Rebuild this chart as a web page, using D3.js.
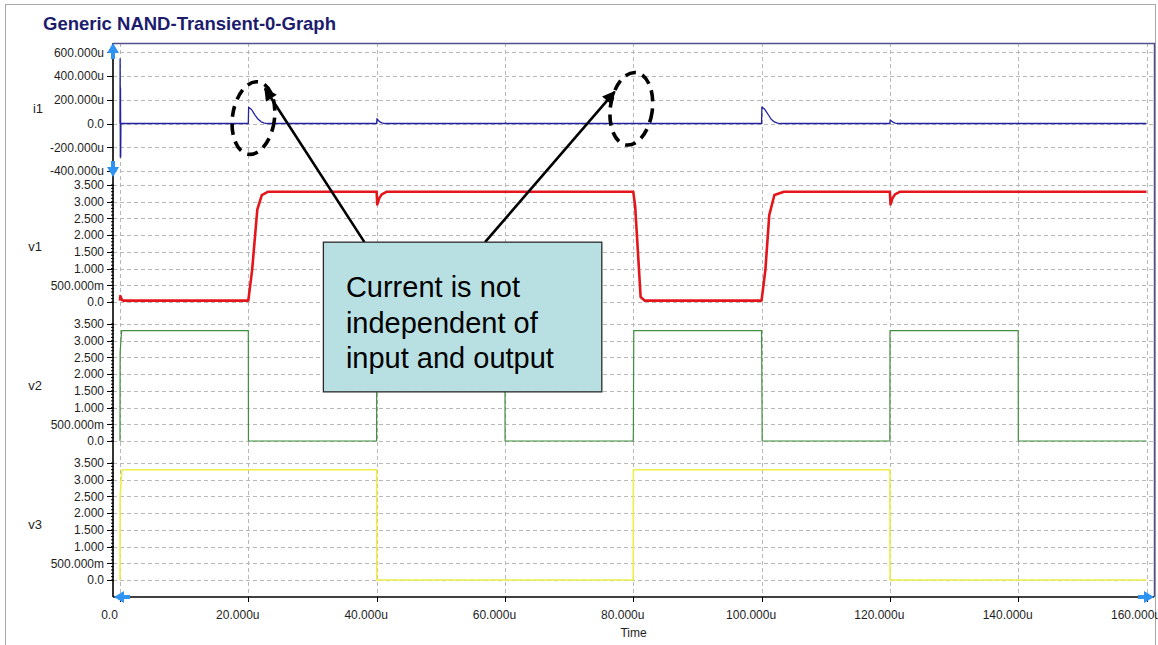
<!DOCTYPE html>
<html>
<head>
<meta charset="utf-8">
<script src="https://cdn.jsdelivr.net/npm/d3@7"></script>
<style>
body { margin: 0; background: #fff; }
text { font-family: "Liberation Sans", Arial, sans-serif; }
</style>
</head>
<body>
<svg id="chart" width="1158" height="645"></svg>
<script>
// time in u (micro seconds), i1 in uA, v1..v3 in V
var timeTicks = [0, 20, 40, 60, 80, 100, 120, 140, 160];
var timeLabels = ["0.0", "20.000u", "40.000u", "60.000u", "80.000u", "100.000u", "120.000u", "140.000u", "160.000u"];
var i1Ticks = [600, 400, 200, 0, -200, -400];
var i1Labels = ["600.000u", "400.000u", "200.000u", "0.0", "-200.000u", "-400.000u"];
var vTicks = [3.5, 3, 2.5, 2, 1.5, 1, 0.5, 0];
var vLabels = ["3.500", "3.000", "2.500", "2.000", "1.500", "1.000", "500.000m", "0.0"];

var i1Points = [[0, 0], [0.02, 545], [0.05, -285], [0.08, 300], [0.11, -280], [0.14, 0], [20, 0],
  [20.05, 137], [20.5, 118], [21, 75], [21.5, 38], [22, 14], [22.5, 4], [23, 0], [40, 0],
  [40.05, 40], [40.4, 18], [40.8, 6], [41.3, 0], [60, 0], [60.05, 6], [60.4, 0], [80, 0],
  [80.05, 3], [80.3, 0], [100, 0], [100.05, 140], [100.5, 120], [101, 78], [101.5, 36],
  [102, 13], [102.5, 4], [103, 0], [120, 0], [120.05, 30], [120.4, 14], [120.8, 4], [121.2, 0],
  [140, 0], [140.05, 4], [140.3, 0], [160, 0]];
var v1Points = [[0, 0.04], [0.05, 0.18], [0.3, 0.06], [0.6, 0.04], [20, 0.04], [20.6, 0.97],
  [21.4, 2.76], [22.1, 3.2], [23.1, 3.3], [40, 3.3], [40.1, 2.92], [40.4, 3.1], [40.8, 3.22],
  [41.6, 3.3], [80, 3.3], [80.3, 2.86], [80.8, 1.27], [81.15, 0.15], [81.8, 0.04], [100, 0.04],
  [100.6, 0.97], [101.2, 2.6], [102, 3.2], [103.5, 3.3], [120, 3.3], [120.1, 2.92], [120.4, 3.1],
  [120.8, 3.22], [121.6, 3.3], [160, 3.3]];
var v2Points = [[0, 0], [0.02, 2.65], [0.25, 3.3], [20, 3.3], [20.02, 0], [40, 0], [40.02, 3.3],
  [60, 3.3], [60.02, 0], [80, 0], [80.02, 0.3], [80.08, 3.3], [100, 3.3], [100.02, 2.8],
  [100.1, 0], [120, 0], [120.02, 3.3], [140, 3.3], [140.02, 0], [160, 0]];
var v3Points = [[0, 0], [0.02, 2.5], [0.3, 3.3], [40, 3.3], [40.02, 0], [80, 0], [80.02, 3.3],
  [120, 3.3], [120.02, 0], [160, 0]];

var noteLines = ["Current is not", "independent of", "input and output"];
var noteBox = {t0: 31.7, t1: 75.1, vTop: 1.79, vBottom: 1.47};
var circleMarks = [{t: 20.8, i: 46}, {t: 79.7, i: 124}];
var arrowMarks = [{t0: 38.1, t1: 22.6, i1: 295}, {t0: 56.9, t1: 77.1, i1: 267}];

var svg = d3.select("#chart");
var plotLeft = 113, plotRight = 1154, plotTop = 43, plotBottom = 597;
var bounds = [43, 180, 319, 458, 597];

svg.append("rect").attr("x", 5.5).attr("y", 4.5).attr("width", 1150).attr("height", 660)
  .attr("fill", "#fff").attr("stroke", "#a8a8a8").attr("stroke-width", 1);

svg.append("text").attr("x", 43).attr("y", 30).text("Generic NAND-Transient-0-Graph")
  .style("font-size", "18.5px").style("font-weight", "bold").attr("fill", "#1c1c6e");

var x = d3.scaleLinear().domain([0, 160]).range([120, 1146.5]);

var panels = [
  {name: "i1", ticks: i1Ticks, labels: i1Labels, data: i1Points, color: "#2323a0", width: 1.3,
   y: d3.scaleLinear().domain([-400, 600]).range([bounds[1] - 9, bounds[0] + 9.3])},
  {name: "v1", ticks: vTicks, labels: vLabels, data: v1Points, color: "#e3161b", width: 2.6,
   y: d3.scaleLinear().domain([0, 3.5]).range([bounds[2] - 17, bounds[1] + 5])},
  {name: "v2", ticks: vTicks, labels: vLabels, data: v2Points, color: "#3f8f3f", width: 1.2,
   y: d3.scaleLinear().domain([0, 3.5]).range([bounds[3] - 17, bounds[2] + 5])},
  {name: "v3", ticks: vTicks, labels: vLabels, data: v3Points, color: "#eeee4a", width: 1.6,
   y: d3.scaleLinear().domain([0, 3.5]).range([bounds[4] - 17, bounds[3] + 5])}
];

var grid = svg.append("g").attr("stroke", "#b8b8b8").attr("stroke-width", 1)
  .attr("stroke-dasharray", "4,3");
grid.selectAll("line.vx").data(timeTicks).enter().append("line")
  .attr("x1", d => Math.round(x(d)) + 0.5).attr("x2", d => Math.round(x(d)) + 0.5)
  .attr("y1", plotTop).attr("y2", plotBottom);

panels.forEach(p => {
  grid.append("g").selectAll("line").data(p.ticks).enter().append("line")
    .attr("x1", plotLeft).attr("x2", plotRight)
    .attr("y1", d => Math.round(p.y(d)) + 0.5).attr("y2", d => Math.round(p.y(d)) + 0.5);
});

// traces
panels.forEach(p => {
  var line = d3.line().x(d => x(d[0])).y(d => p.y(d[1]));
  svg.append("path").datum(p.data).attr("d", line).attr("fill", "none")
    .attr("stroke", p.color).attr("stroke-width", p.width).attr("stroke-linejoin", "round");
});

// left axis, ticks and labels
var axisG = svg.append("g");
axisG.append("line").attr("x1", plotLeft).attr("x2", plotLeft).attr("y1", plotTop).attr("y2", plotBottom)
  .attr("stroke", "#000").attr("stroke-width", 1.6);
panels.forEach((p, k) => {
  var g = axisG.append("g");
  if (k > 0) {
    g.selectAll("line.minor").data(d3.range(0, 36).map(d => d / 10)).enter().append("line")
      .attr("x1", plotLeft - 2).attr("x2", plotLeft + 1)
      .attr("y1", d => p.y(d)).attr("y2", d => p.y(d))
      .attr("stroke", "#000").attr("stroke-width", 1);
  }
  g.selectAll("line.major").data(p.ticks).enter().append("line")
    .attr("x1", plotLeft - 6).attr("x2", plotLeft)
    .attr("y1", d => Math.round(p.y(d)) + 0.5).attr("y2", d => Math.round(p.y(d)) + 0.5)
    .attr("stroke", "#000").attr("stroke-width", 1);
  g.selectAll("text").data(p.ticks).enter().append("text")
    .attr("x", 104).attr("y", d => p.y(d) + 4.3).attr("text-anchor", "end")
    .style("font-size", "12px").attr("fill", "#1e1e1e")
    .text((d, j) => p.labels[j]);
  g.append("text").attr("x", k === 0 ? 38 : 35).attr("y", (bounds[k] + bounds[k + 1]) / 2 + 1)
    .attr("text-anchor", "middle").style("font-size", "13px").attr("fill", "#1e1e1e")
    .text(p.name);
});

// plot frame
svg.append("path")
  .attr("d", "M" + plotLeft + "," + (plotTop + 0.5) + "H" + (plotRight + 0.5) + "V" + plotBottom)
  .attr("fill", "none").attr("stroke", "#50508e").attr("stroke-width", 1.5);

// bottom axis
svg.append("line").attr("x1", plotLeft).attr("x2", plotRight).attr("y1", plotBottom).attr("y2", plotBottom)
  .attr("stroke", "#000").attr("stroke-width", 1.3);
svg.append("g").selectAll("line").data(timeTicks).enter().append("line")
  .attr("x1", d => Math.round(x(d)) + 0.5).attr("x2", d => Math.round(x(d)) + 0.5)
  .attr("y1", plotBottom).attr("y2", plotBottom + 5).attr("stroke", "#000");
svg.append("g").selectAll("text").data(timeTicks).enter().append("text")
  .attr("x", d => x(d) - 10.5).attr("y", 619).attr("text-anchor", "middle")
  .style("font-size", "12px").attr("fill", "#1e1e1e")
  .text((d, j) => timeLabels[j]);
svg.append("text").attr("x", (plotLeft + plotRight) / 2).attr("y", 637).attr("text-anchor", "middle")
  .style("font-size", "12px").attr("fill", "#1e1e1e").text("Time");

// blue scroll arrows
var blue = "#2f93f2";
function upArrow(cx, tipY, dir) {
  return "M" + cx + "," + tipY + "l-6," + (10 * dir) + "h4v" + (6 * dir) + "h4v" + (-6 * dir) + "h4z";
}
svg.append("path").attr("d", upArrow(plotLeft, plotTop, 1)).attr("fill", blue);
svg.append("path").attr("d", upArrow(plotLeft, bounds[1] - 3, -1)).attr("fill", blue);
function sideArrow(tipX, cy, dir) {
  return "M" + tipX + "," + cy + "l" + (10 * dir) + ",-6v4h" + (6 * dir) + "v4h" + (-6 * dir) + "v4z";
}
svg.append("path").attr("d", sideArrow(plotLeft + 1, plotBottom, 1)).attr("fill", blue);
svg.append("path").attr("d", sideArrow(plotRight, plotBottom, -1)).attr("fill", blue);

// annotation
var yI = panels[0].y;
var boxTop = panels[1].y(noteBox.vTop), boxBottom = panels[2].y(noteBox.vBottom);
svg.append("defs").append("marker").attr("id", "head").attr("viewBox", "0 0 10 10")
  .attr("refX", 9).attr("refY", 5).attr("markerWidth", 6).attr("markerHeight", 5)
  .attr("markerUnits", "strokeWidth").attr("orient", "auto")
  .append("path").attr("d", "M0,0L10,5L0,10z").attr("fill", "#000");
svg.append("g").selectAll("line").data(arrowMarks).enter().append("line")
  .attr("x1", d => x(d.t0)).attr("y1", boxTop).attr("x2", d => x(d.t1)).attr("y2", d => yI(d.i1))
  .attr("stroke", "#000").attr("stroke-width", 2.6).attr("marker-end", "url(#head)");
svg.append("g").selectAll("ellipse").data(circleMarks).enter().append("ellipse")
  .attr("cx", 0).attr("cy", 0).attr("rx", 21).attr("ry", 36.5)
  .attr("transform", d => "translate(" + x(d.t) + "," + yI(d.i) + ") rotate(8)")
  .attr("fill", "none").attr("stroke", "#000").attr("stroke-width", 3.6)
  .attr("stroke-dasharray", "11,7");
svg.append("rect").attr("x", x(noteBox.t0)).attr("y", boxTop)
  .attr("width", x(noteBox.t1) - x(noteBox.t0)).attr("height", boxBottom - boxTop)
  .attr("fill", "#b8e0e3").attr("stroke", "#2a2a2a").attr("stroke-width", 1.3);
svg.append("g").selectAll("text").data(noteLines).enter().append("text")
  .attr("x", x(noteBox.t0) + 22.5).attr("y", (d, j) => boxTop + 55 + j * 35.5)
  .style("font-size", "29px").attr("fill", "#000").text(d => d);
</script>
</body>
</html>
